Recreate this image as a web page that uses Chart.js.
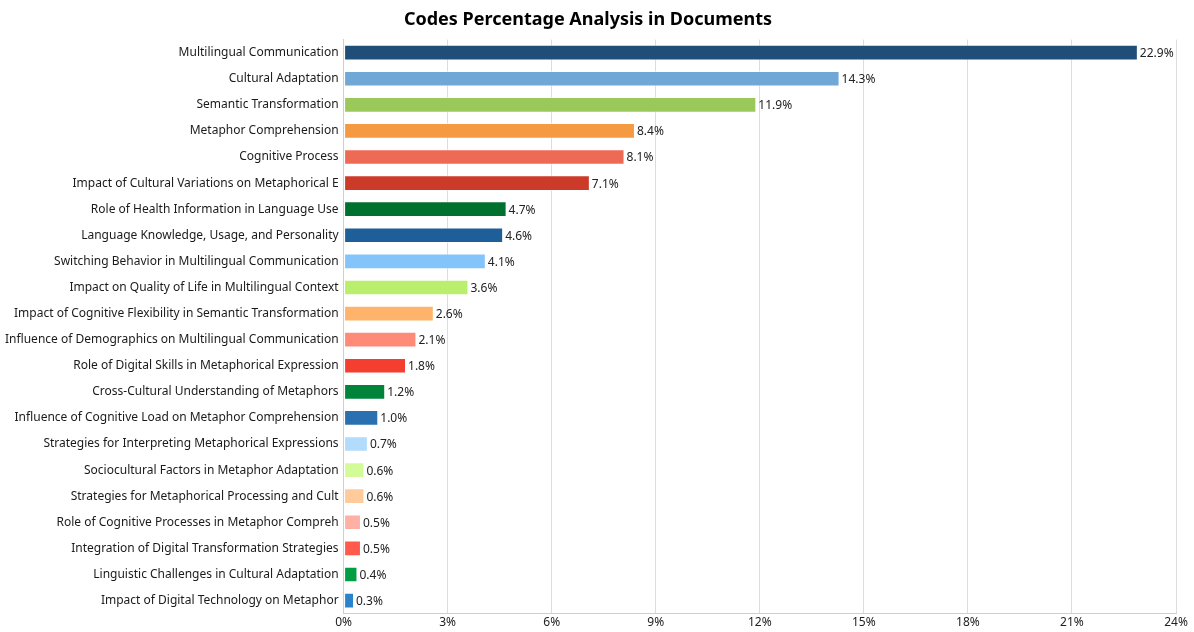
<!DOCTYPE html>
<html>
<head>
<meta charset="utf-8">
<script src="https://cdn.jsdelivr.net/npm/chart.js@4"></script>
<style>
  html, body { margin: 0; padding: 0; background: #fff; }
  #wrap { width: 1194px; height: 632px; }
</style>
</head>
<body>
<div id="wrap"><canvas id="chart"></canvas></div>
<script>
const codes = [
    'Multilingual Communication',
    'Cultural Adaptation',
    'Semantic Transformation',
    'Metaphor Comprehension',
    'Cognitive Process',
    'Impact of Cultural Variations on Metaphorical E',
    'Role of Health Information in Language Use',
    'Language Knowledge, Usage, and Personality',
    'Switching Behavior in Multilingual Communication',
    'Impact on Quality of Life in Multilingual Context',
    'Impact of Cognitive Flexibility in Semantic Transformation',
    'Influence of Demographics on Multilingual Communication',
    'Role of Digital Skills in Metaphorical Expression',
    'Cross-Cultural Understanding of Metaphors',
    'Influence of Cognitive Load on Metaphor Comprehension',
    'Strategies for Interpreting Metaphorical Expressions',
    'Sociocultural Factors in Metaphor Adaptation',
    'Strategies for Metaphorical Processing and Cult',
    'Role of Cognitive Processes in Metaphor Compreh',
    'Integration of Digital Transformation Strategies',
    'Linguistic Challenges in Cultural Adaptation',
    'Impact of Digital Technology on Metaphor'
];
const percentages = [22.9, 14.3, 11.9, 8.4, 8.1, 7.1, 4.7, 4.6, 4.1, 3.6, 2.6, 2.1, 1.8, 1.2, 1.0, 0.7, 0.6, 0.6, 0.5, 0.5, 0.4, 0.3];
const barColors = [
    '#1f4e79', '#6fa8d6', '#9bc85a', '#f59a42', '#ef6a55', '#cc3a2a',
    '#00702f', '#1f5f99', '#83c4fa', '#b9ef6c', '#ffb36b', '#ff8a78',
    '#f43f30', '#00843a', '#2a6fb0', '#b3dcfc', '#d3fc98', '#ffcb9b',
    '#ffb0a5', '#ff5a4b', '#009e42', '#2a84cc'
];
const xTickStep = 3;
const xMax = 24;

const FONT = '"Noto Sans", sans-serif';

// draws the percentage at the end of each bar
const valueLabels = {
    id: 'valueLabels',
    afterDatasetsDraw(chart) {
        const ctx = chart.ctx;
        const meta = chart.getDatasetMeta(0);
        ctx.save();
        ctx.font = '12px ' + FONT;
        ctx.fillStyle = '#222';
        ctx.textAlign = 'left';
        ctx.textBaseline = 'middle';
        meta.data.forEach((bar, i) => {
            ctx.fillText(percentages[i].toFixed(1) + '%', bar.x + 2, bar.y + 1);
        });
        ctx.restore();
    }
};

new Chart(document.getElementById('chart').getContext('2d'), {
    type: 'bar',
    data: {
        labels: codes,
        datasets: [{
            data: percentages,
            backgroundColor: barColors,
            borderColor: 'rgba(255,255,255,0.55)',
            borderWidth: 1,
            borderSkipped: false,
            categoryPercentage: 0.6,
            barPercentage: 1.0
        }]
    },
    options: {
        indexAxis: 'y',
        responsive: true,
        maintainAspectRatio: false,
        animation: false,
        layout: { padding: { left: 0, right: 18, top: 0, bottom: 0 } },
        plugins: {
            legend: { display: false },
            tooltip: { enabled: false },
            title: {
                display: true,
                text: 'Codes Percentage Analysis in Documents',
                color: '#000',
                font: { family: FONT, size: 18, weight: 'bold' },
                padding: { top: 9, bottom: 9 }
            }
        },
        scales: {
            x: {
                min: 0,
                max: xMax,
                ticks: {
                    stepSize: xTickStep,
                    color: '#222',
                    font: { family: FONT, size: 12 },
                    padding: 2,
                    callback: v => v + '%'
                },
                grid: { color: '#dcdcdc', drawTicks: false },
                border: { color: '#cfcfcf' }
            },
            y: {
                ticks: {
                    color: '#1a1a1a',
                    font: { family: FONT, size: 12 },
                    padding: 5,
                    autoSkip: false
                },
                grid: { display: false, drawTicks: false },
                border: { color: '#cfcfcf' }
            }
        }
    },
    plugins: [valueLabels]
});
</script>
</body>
</html>
